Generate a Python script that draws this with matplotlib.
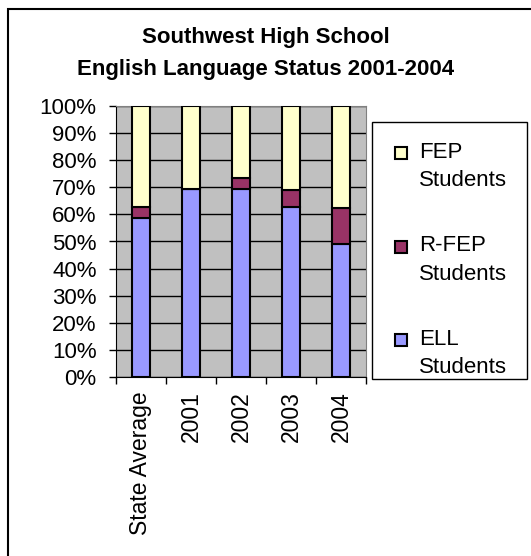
import numpy as np
import matplotlib.pyplot as plt
from matplotlib.patches import Rectangle

plt.rcParams['font.family'] = ['Liberation Sans', 'DejaVu Sans']

categories = ["State Average", "2001", "2002", "2003", "2004"]
ell = [58.5, 69.5, 69.5, 62.9, 48.9]
rfep = [4.4, 0.0, 3.8, 6.0, 13.3]
fep = [100 - a - b for a, b in zip(ell, rfep)]

series = [
    ("ELL\nStudents", ell, "#9999FF"),
    ("R-FEP\nStudents", rfep, "#993366"),
    ("FEP\nStudents", fep, "#FFFFCC"),
]

W, H = 531, 556
fig = plt.figure(figsize=(W / 100, H / 100), dpi=100)


def px(x, y):
    """pixel position (from top-left) -> figure fraction"""
    return x / W, 1 - y / H


# outer chart frame (only top and left edges fall inside the image)
fig.add_artist(Rectangle((8 / W, -0.1), 1.2, 1 - 8.5 / H + 0.1,
                         transform=fig.transFigure, fill=False,
                         edgecolor="black", linewidth=1.5))

ax = fig.add_axes([116 / W, 1 - 377 / H, 250 / W, 271 / H])
ax.set_facecolor("#C0C0C0")

x = np.arange(len(categories))
bottom = np.zeros(len(categories))
for label, vals, color in series:
    ax.bar(x, vals, width=0.37, bottom=bottom, color=color,
           edgecolor="black", linewidth=1.5, label=label, zorder=3)
    bottom += np.array(vals)

ax.set_xlim(-0.5, len(categories) - 0.5)
ax.set_ylim(0, 100)
ax.set_yticks(np.arange(0, 101, 10))
ax.set_yticklabels([f"{v}%" for v in range(0, 101, 10)], fontsize=16)
ax.yaxis.grid(True, color="black", linewidth=1, zorder=1)
ax.set_axisbelow(True)

ax.set_xticks(x)
ax.set_xticklabels(categories, rotation=90, fontsize=16.5)
ax.tick_params(axis="x", length=0, pad=10)
ax.set_xticks(np.arange(-0.5, len(categories)), minor=True)
ax.tick_params(axis="x", which="minor", length=5, width=1, direction="out")
ax.tick_params(axis="y", length=5, width=1, direction="out", pad=9)

for side in ["top", "right"]:
    ax.spines[side].set_color("#808080")
for side in ["left", "bottom"]:
    ax.spines[side].set_color("black")

fig.text(*px(W / 2, 38), "Southwest High School", ha="center", va="center",
         fontsize=16, fontweight="bold")
fig.text(*px(W / 2, 70), "English Language Status 2001-2004", ha="center",
         va="center", fontsize=16, fontweight="bold")

# legend box, entries listed top to bottom in stacking order reversed
lx0, ly0, lx1, ly1 = 372, 122, 527, 379
fig.add_artist(Rectangle(px(lx0, ly1), (lx1 - lx0) / W, (ly1 - ly0) / H,
                         transform=fig.transFigure, facecolor="white",
                         edgecolor="black", linewidth=1))
for i, (label, vals, color) in enumerate(series[::-1]):
    y_first = 153 + i * 93.5
    fig.add_artist(Rectangle(px(395, y_first + 6), 12 / W, 12 / H,
                             transform=fig.transFigure, facecolor=color,
                             edgecolor="black", linewidth=1.5))
    fig.text(*px(419, y_first + 13.5), label, ha="left", va="center",
             fontsize=16, linespacing=1.45)

fig.savefig("out.png", dpi=100)
